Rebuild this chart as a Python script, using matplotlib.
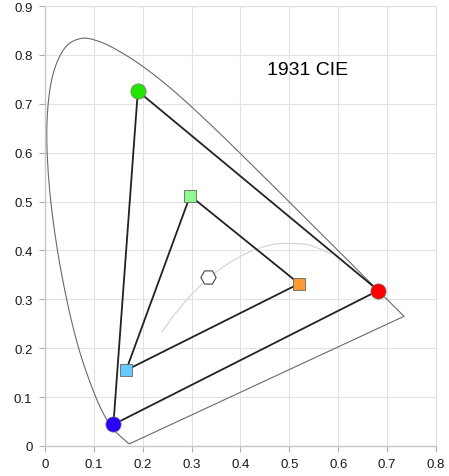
import numpy as np
import matplotlib.pyplot as plt

# CIE 1931 spectral locus, 380-700 nm
locus_x = [0.1741, 0.1740, 0.1738, 0.1736, 0.1733, 0.1730, 0.1726, 0.1721, 0.1714,
           0.1703, 0.1689, 0.1669, 0.1644, 0.1611, 0.1566, 0.1510, 0.1440, 0.1355,
           0.1241, 0.1096, 0.0913, 0.0687, 0.0454, 0.0235, 0.0082, 0.0039, 0.0139,
           0.0389, 0.0743, 0.1142, 0.1547, 0.1929, 0.2296, 0.2658, 0.3016, 0.3373,
           0.3731, 0.4087, 0.4441, 0.4788, 0.5125, 0.5448, 0.5752, 0.6029, 0.6270,
           0.6482, 0.6658, 0.6801, 0.6915, 0.7006, 0.7079, 0.7140, 0.7190, 0.7230,
           0.7260, 0.7300, 0.7334, 0.7347]
locus_y = [0.0050, 0.0050, 0.0049, 0.0049, 0.0048, 0.0048, 0.0048, 0.0048, 0.0051,
           0.0058, 0.0069, 0.0086, 0.0109, 0.0138, 0.0177, 0.0227, 0.0297, 0.0399,
           0.0578, 0.0868, 0.1327, 0.2007, 0.2950, 0.4127, 0.5384, 0.6548, 0.7502,
           0.8120, 0.8338, 0.8262, 0.8059, 0.7816, 0.7543, 0.7243, 0.6923, 0.6589,
           0.6245, 0.5896, 0.5547, 0.5202, 0.4866, 0.4544, 0.4242, 0.3965, 0.3725,
           0.3514, 0.3340, 0.3197, 0.3083, 0.2993, 0.2920, 0.2859, 0.2809, 0.2770,
           0.2740, 0.2700, 0.2666, 0.2653]

# Planckian locus (infinite K down to 1500 K)
planck_x = [0.2399, 0.2526, 0.2637, 0.2807, 0.2952, 0.3135, 0.3221, 0.3324, 0.3451,
            0.3611, 0.3805, 0.4053, 0.4369, 0.4770, 0.5266, 0.5496, 0.5857]
planck_y = [0.2342, 0.2523, 0.2671, 0.2883, 0.3048, 0.3237, 0.3318, 0.3410, 0.3516,
            0.3635, 0.3768, 0.3907, 0.4041, 0.4137, 0.4133, 0.4081, 0.3931]

# outer gamut (R, G, B)
outer_x = [0.682, 0.190, 0.140]
outer_y = [0.318, 0.726, 0.044]
outer_colors = ['#ff0000', '#22e600', '#2800ff']

# inner gamut (R, G, B)
inner_x = [0.520, 0.297, 0.166]
inner_y = [0.332, 0.512, 0.155]
inner_colors = ['#ff9933', '#8ef98e', '#66ccff']

white_x, white_y = 0.334, 0.346


def smooth(xs, ys, n=12):
    # Catmull-Rom pass through the points, like a "smoothed line" series
    p = np.column_stack([xs, ys])
    p = np.vstack([p[0], p, p[-1]])
    out = []
    t = np.linspace(0, 1, n, endpoint=False)[:, None]
    for i in range(1, len(p) - 2):
        p0, p1, p2, p3 = p[i - 1], p[i], p[i + 1], p[i + 2]
        seg = 0.5 * (2 * p1 + (p2 - p0) * t + (2 * p0 - 5 * p1 + 4 * p2 - p3) * t ** 2
                     + (3 * p1 - p0 - 3 * p2 + p3) * t ** 3)
        out.append(seg)
    out.append(p[-2][None, :])
    out = np.vstack(out)
    return out[:, 0], out[:, 1]


plt.rcParams['font.family'] = ['Liberation Sans', 'DejaVu Sans']
fig = plt.figure(figsize=(4.49, 4.77), dpi=100)
ax = fig.add_axes([0.1002, 0.0629, 0.8707, 0.9224])

lx, ly = smooth(locus_x, locus_y)
ax.plot(np.append(lx, locus_x[0]), np.append(ly, locus_y[0]), color='#6a6a6a', lw=0.8, zorder=2)
px, py = smooth(planck_x, planck_y)
ax.plot(px, py, color='#d6d6d6', lw=0.9, zorder=2)

ax.plot(outer_x + [outer_x[0]], outer_y + [outer_y[0]], color='#222222', lw=1.3, zorder=3)
ax.plot(inner_x + [inner_x[0]], inner_y + [inner_y[0]], color='#222222', lw=1.3, zorder=3)

for x, y, c in zip(outer_x, outer_y, outer_colors):
    ax.plot(x, y, 'o', ms=11, mfc=c, mec='#777777', mew=0.5, zorder=4)
for x, y, c in zip(inner_x, inner_y, inner_colors):
    ax.plot(x, y, 's', ms=9, mfc=c, mec='#666666', mew=0.6, zorder=4)
ax.plot(white_x, white_y, 'H', ms=11, mfc='white', mec='#444444', mew=0.8, zorder=4)

ax.text(0.537, 0.771, '1931 CIE', fontsize=14, ha='center', va='center')

ax.set_xlim(0, 0.8)
ax.set_ylim(0, 0.9)
ax.set_xticks([i / 10 for i in range(9)])
ax.set_yticks([i / 10 for i in range(10)])
ax.set_xticklabels(['0'] + ['%.1f' % (i / 10) for i in range(1, 9)])
ax.set_yticklabels(['0'] + ['%.1f' % (i / 10) for i in range(1, 10)])
ax.grid(True, color='#e2e2e2', lw=0.8)
ax.set_axisbelow(True)
for s in ['top', 'right']:
    ax.spines[s].set_color('#e0e0e0')
    ax.spines[s].set_linewidth(0.8)
for s in ['left', 'bottom']:
    ax.spines[s].set_color('#c8c8c8')
    ax.spines[s].set_linewidth(1.0)
ax.tick_params(axis='both', labelsize=9.5, color='#b0b0b0', length=4, width=0.8,
               pad=5, labelcolor='#1a1a1a')

fig.savefig('out.png', dpi=100)
